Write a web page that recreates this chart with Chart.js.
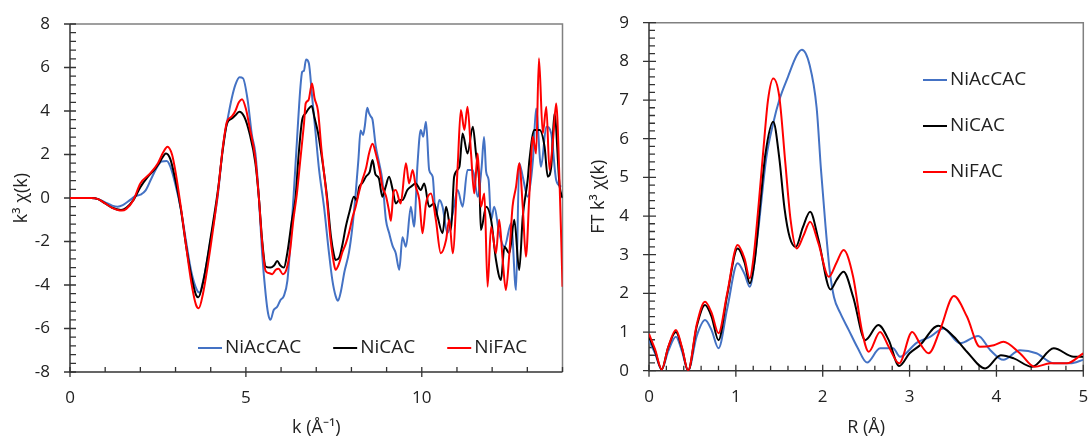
<!DOCTYPE html>
<html><head><meta charset="utf-8">
<script src="https://cdn.jsdelivr.net/npm/chart.js@4/dist/chart.umd.min.js"></script>
<style>
body{margin:0;background:#fff;width:1088px;height:439px;overflow:hidden;position:relative}
#w1{position:absolute;left:0;top:0;width:580px;height:439px}
#w2{position:absolute;left:575px;top:0;width:513px;height:439px}
</style></head><body>
<div id="w1"><canvas id="c1" width="580" height="439"></canvas></div>
<div id="w2"><canvas id="c2" width="513" height="439"></canvas></div>
<script>
// ---------- data ----------
const seriesNames = ['NiAcCAC', 'NiCAC', 'NiFAC'];

const kTicks = [0, 5, 10];
const chiTicks = [-8, -6, -4, -2, 0, 2, 4, 6, 8];
const rTicks = [0, 1, 2, 3, 4, 5];
const ftTicks = [0, 1, 2, 3, 4, 5, 6, 7, 8, 9];

// k-space: k (1/Å) and k^3 chi(k)
const kAcCAC = [0,0.6,0.8,1.0,1.2,1.35,1.5,1.7,1.85,2.0,2.15,2.3,2.45,2.6,2.75,2.85,3.0,3.15,3.3,3.45,3.6,3.68,3.8,4.0,4.2,4.35,4.5,4.6,4.7,4.82,4.92,5.05,5.17,5.27,5.37,5.46,5.56,5.63,5.7,5.79,5.89,5.98,6.08,6.18,6.27,6.36,6.45,6.55,6.6,6.65,6.71,6.79,6.88,6.98,7.08,7.22,7.36,7.46,7.55,7.62,7.7,7.8,7.93,8.03,8.12,8.2,8.26,8.33,8.38,8.45,8.5,8.55,8.6,8.69,8.79,8.88,8.98,9.07,9.17,9.26,9.36,9.45,9.55,9.69,9.78,9.88,9.97,10.04,10.12,10.21,10.31,10.4,10.5,10.59,10.73,10.88,11.02,11.16,11.3,11.45,11.59,11.7,11.77,11.83,11.9,11.97,12.06,12.2,12.35,12.54,12.68,12.77,12.87,13.01,13.16,13.25,13.39,13.54,13.68,13.82,13.96];
const chiAcCAC = [0,0,-0.05,-0.2,-0.35,-0.4,-0.33,-0.1,0.08,0.15,0.35,0.85,1.35,1.68,1.7,1.45,0.6,-0.5,-2.0,-3.4,-4.2,-4.35,-3.7,-1.9,0.1,2.4,3.8,4.6,5.2,5.55,5.5,4.5,2.9,2.05,0.0,-2.5,-4.4,-5.3,-5.6,-5.15,-5.0,-4.7,-4.5,-3.8,-2.0,0.2,2.6,5.1,5.8,5.85,6.37,6.2,4.7,3.0,1.3,-0.4,-2.5,-3.8,-4.5,-4.72,-4.3,-3.4,-2.5,-1.3,0.2,1.8,3.1,2.9,3.3,4.15,3.9,3.75,3.6,2.4,1.6,0.8,-1.0,-1.6,-2.2,-2.54,-3.3,-1.8,-2.24,-0.4,-1.32,1.6,3.13,2.82,3.51,1.29,0.98,-0.86,-0.09,-0.4,-1.62,-0.7,0.37,-0.4,1.29,1.29,0.06,1.4,2.8,1.2,0.83,-1.0,-0.4,-1.62,-2.24,-1.16,-4.23,1.6,0.98,0.06,1.75,4.12,1.44,3.28,2.97,0.83,0.52];

const kCAC = [0,0.6,0.8,1.0,1.2,1.45,1.6,1.8,2.0,2.2,2.4,2.55,2.73,2.85,3.0,3.15,3.3,3.45,3.58,3.65,3.78,4.0,4.2,4.35,4.46,4.6,4.7,4.81,4.95,5.1,5.27,5.37,5.46,5.56,5.7,5.8,5.89,5.98,6.08,6.18,6.31,6.41,6.5,6.6,6.7,6.78,6.87,6.95,7.05,7.17,7.31,7.42,7.5,7.55,7.65,7.75,7.84,7.95,8.07,8.15,8.22,8.31,8.42,8.52,8.6,8.68,8.78,8.88,8.97,9.07,9.17,9.26,9.36,9.45,9.59,9.69,9.83,9.97,10.07,10.21,10.35,10.45,10.59,10.69,10.83,10.92,11.07,11.16,11.3,11.45,11.54,11.64,11.68,11.83,11.97,12.11,12.25,12.35,12.49,12.63,12.77,12.87,13.01,13.06,13.2,13.35,13.49,13.58,13.68,13.77,13.92,14.0];
const chiCAC = [0,0,-0.05,-0.25,-0.45,-0.55,-0.45,-0.1,0.5,0.95,1.3,1.65,2.05,1.8,0.8,-0.5,-2.2,-3.6,-4.45,-4.56,-3.9,-1.8,0.3,2.3,3.4,3.65,3.8,3.97,3.75,3.0,1.6,0.0,-1.9,-3.15,-3.2,-3.1,-2.9,-3.1,-3.2,-2.5,-1.0,0.0,2.0,3.6,3.9,4.1,4.23,3.7,3.0,1.75,0.0,-1.8,-2.6,-2.85,-2.75,-2.1,-1.32,-0.6,0.06,-0.1,0.5,0.69,1.0,1.2,1.75,1.1,0.9,0.06,0.5,0.98,0.4,-0.25,-0.09,-0.09,0.37,0.52,0.67,0.37,0.67,-0.4,-0.25,-0.86,-1.62,-0.4,-1.47,0.98,1.44,2.97,2.05,3.28,2.05,0.52,-1.47,-0.4,-1.0,-2.85,-3.77,-2.24,-2.54,-1.0,-3.31,-0.86,0.83,1.75,3.13,3.13,2.36,0.98,1.44,3.89,0.52,0.0];

const kFAC = [0,0.6,0.8,1.0,1.2,1.47,1.6,1.8,2.0,2.28,2.5,2.65,2.77,2.9,3.0,3.15,3.3,3.45,3.58,3.66,3.78,4.0,4.2,4.35,4.46,4.6,4.7,4.8,4.89,5.0,5.1,5.27,5.37,5.46,5.56,5.65,5.75,5.85,5.93,6.05,6.15,6.25,6.35,6.45,6.55,6.65,6.7,6.78,6.88,6.95,7.05,7.15,7.3,7.4,7.5,7.55,7.65,7.74,7.84,7.93,8.03,8.12,8.22,8.31,8.42,8.5,8.6,8.7,8.8,8.88,8.98,9.07,9.12,9.2,9.26,9.4,9.55,9.64,9.74,9.83,9.93,10.02,10.12,10.26,10.4,10.54,10.69,10.78,10.88,11.02,11.11,11.21,11.3,11.4,11.49,11.59,11.68,11.78,11.87,11.97,12.11,12.2,12.3,12.39,12.49,12.58,12.68,12.77,12.87,12.96,13.06,13.16,13.25,13.33,13.44,13.54,13.63,13.73,13.82,13.92,13.97,14.0];
const chiFAC = [0,0,-0.05,-0.25,-0.45,-0.58,-0.5,-0.1,0.67,1.13,1.6,2.1,2.36,2.0,1.2,-0.4,-2.2,-3.9,-4.9,-5.07,-4.4,-2.2,0.2,2.4,3.5,3.75,4.0,4.4,4.54,4.1,3.3,1.8,0.0,-2.0,-3.35,-3.45,-3.5,-3.3,-3.25,-3.5,-3.3,-2.5,-1.0,0.2,1.8,3.4,4.35,4.5,5.27,4.6,4.0,2.2,0.0,-1.8,-3.0,-3.3,-3.0,-2.5,-2.1,-1.6,-0.9,-0.4,0.3,0.83,1.4,2.05,2.5,2.0,1.3,0.52,0.1,-0.6,-1.05,0.3,0.37,-0.25,1.6,0.67,1.29,0.52,-0.09,-1.62,-0.25,0.21,-1.0,-2.54,-1.93,-1.0,-2.54,1.44,4.05,3.13,4.2,2.05,0.21,2.05,-0.4,0.21,-4.08,-1.32,-2.54,-1.0,-2.85,-4.23,-2.54,-0.4,0.52,1.6,-0.4,-2.7,0.21,2.82,2.05,6.42,2.97,4.2,1.29,2.67,4.35,0.52,-2.24,-4.08];

// R-space: R (Å) and FT magnitude
const rAcCAC = [0,0.07,0.146,0.22,0.31,0.38,0.45,0.55,0.645,0.72,0.8,0.9,1.02,1.1,1.16,1.25,1.35,1.43,1.5,1.6,1.7,1.76,1.85,1.93,1.98,2.03,2.08,2.13,2.2,2.3,2.4,2.51,2.66,2.81,2.89,3.08,3.24,3.39,3.58,3.79,3.93,4.08,4.27,4.46,4.66,4.85,5.0];
const ftAcCAC = [0.79,0.45,0.03,0.5,0.88,0.5,0.0,0.9,1.31,1.05,0.58,1.6,2.78,2.5,2.17,3.5,5.5,6.4,7.0,7.6,8.15,8.3,7.9,6.8,5.2,3.8,2.6,1.9,1.5,1.05,0.6,0.21,0.58,0.58,0.36,0.72,0.88,1.09,0.71,0.9,0.53,0.28,0.53,0.45,0.19,0.19,0.28];

const rCAC = [0,0.07,0.146,0.22,0.31,0.38,0.45,0.55,0.645,0.72,0.8,0.9,1.02,1.1,1.16,1.22,1.28,1.34,1.43,1.5,1.56,1.62,1.69,1.77,1.855,1.95,2.09,2.16,2.24,2.35,2.49,2.64,2.76,2.88,3.0,3.12,3.33,3.51,3.66,3.87,4.05,4.2,4.41,4.66,4.89,5.0];
const ftCAC = [0.88,0.5,0.03,0.6,1.0,0.58,0.0,1.15,1.7,1.4,0.79,1.95,3.16,2.8,2.26,2.9,4.3,5.6,6.44,5.5,4.2,3.45,3.2,3.7,4.11,3.4,2.1,2.35,2.56,1.91,0.79,1.18,0.79,0.12,0.45,0.66,1.16,0.88,0.49,0.06,0.4,0.32,0.1,0.58,0.36,0.36];

const rFAC = [0,0.07,0.146,0.22,0.31,0.38,0.45,0.55,0.645,0.72,0.8,0.9,1.02,1.1,1.16,1.2,1.26,1.32,1.37,1.43,1.5,1.57,1.63,1.7,1.78,1.855,1.95,2.07,2.16,2.24,2.35,2.45,2.53,2.66,2.76,2.88,3.03,3.12,3.22,3.35,3.51,3.66,3.81,3.97,4.08,4.27,4.44,4.62,4.81,5.0];
const ftFAC = [0.95,0.55,0.03,0.6,1.05,0.6,0.0,1.2,1.78,1.5,0.97,2.0,3.25,2.9,2.39,2.86,4.24,5.8,7.0,7.56,7.09,5.36,3.9,3.16,3.5,3.85,3.3,2.43,2.8,3.12,2.43,1.05,0.49,1.0,0.62,0.19,1.0,0.7,0.45,1.05,1.93,1.4,0.62,0.66,0.75,0.45,0.1,0.19,0.19,0.45];

// ---------- styling ----------
const seriesColors = ['#4472C4', '#000000', '#FF0000'];
const drawOrder = [2, 1, 0];
const FONT = "'Open Sans', sans-serif";
const TEXT = '#222';
Chart.defaults.font.family = FONT;
Chart.defaults.color = TEXT;

const pts = (xs, ys) => xs.map((x, i) => ({x, y: ys[i]}));

const axisDeco = {
  id: 'axisDeco',
  beforeDatasetsDraw(chart, args, o) {
    const {ctx, chartArea: a, scales: {x, y}} = chart;
    ctx.save();
    ctx.strokeStyle = o.frameColor; ctx.lineWidth = o.frameWidth;
    ctx.beginPath(); ctx.moveTo(a.left, a.top); ctx.lineTo(a.right, a.top); ctx.lineTo(a.right, a.bottom); ctx.stroke();
    ctx.strokeStyle = o.axisColor; ctx.lineWidth = o.axisWidth;
    ctx.beginPath(); ctx.moveTo(a.left, a.top); ctx.lineTo(a.left, a.bottom); ctx.lineTo(a.right, a.bottom); ctx.stroke();
    ctx.lineWidth = o.tickWidth;
    ctx.beginPath();
    const majY = y.ticks.map(t => t.value);
    const ny = Math.round((y.max - y.min) / o.yMinor);
    for (let i = 0; i <= ny; i++) {
      const v = y.min + i * o.yMinor;
      const py = y.getPixelForValue(v);
      if (majY.some(m => Math.abs(m - v) < 1e-6)) { ctx.moveTo(a.left - o.yMajOut, py); ctx.lineTo(a.left + o.yMajIn, py); }
      else { ctx.moveTo(a.left, py); ctx.lineTo(a.left + o.yMinIn, py); }
    }
    const majX = x.ticks.map(t => t.value);
    const nx = Math.round((x.max - x.min) / o.xMinor);
    for (let i = 0; i <= nx; i++) {
      const v = x.min + i * o.xMinor;
      const px = x.getPixelForValue(v);
      if (majX.some(m => Math.abs(m - v) < 1e-6)) { ctx.moveTo(px, a.bottom + o.xMajOut); ctx.lineTo(px, a.bottom - o.xMajIn); }
      else { ctx.moveTo(px, a.bottom); ctx.lineTo(px, a.bottom - o.xMinIn); }
    }
    ctx.stroke();
    ctx.restore();
  }
};

const legendDeco = {
  id: 'legendDeco',
  afterDatasetsDraw(chart, args, o) {
    const ctx = chart.ctx;
    ctx.save();
    ctx.font = o.font; ctx.textBaseline = 'middle'; ctx.fillStyle = TEXT;
    let x = o.x, y = o.y;
    chart.data.datasets.forEach(ds => {
      ctx.strokeStyle = ds.borderColor; ctx.lineWidth = o.lineWidth;
      ctx.beginPath(); ctx.moveTo(x, y); ctx.lineTo(x + o.lineLen, y); ctx.stroke();
      ctx.fillText(ds.label, x + o.lineLen + o.textGap, y + o.textDy);
      if (o.dir === 'row') x += o.lineLen + o.textGap + ctx.measureText(ds.label).width + o.itemGap;
      else y += o.dy;
    });
    ctx.restore();
  }
};

function makeChart(id, cfg) {
  const datasets = cfg.series.map((s, i) => ({
    label: seriesNames[i],
    data: pts(s[0], s[1]),
    borderColor: seriesColors[i],
    backgroundColor: seriesColors[i],
    borderWidth: cfg.lineWidth,
    pointRadius: 0,
    fill: false,
    cubicInterpolationMode: 'monotone',
    order: drawOrder[i]
  }));
  return new Chart(document.getElementById(id), {
    type: 'line',
    data: {datasets},
    options: {
      responsive: false, animation: false, devicePixelRatio: 1,
      layout: {autoPadding: false, padding: cfg.padding},
      plugins: {legend: {display: false}, tooltip: {enabled: false},
        axisDeco: cfg.deco, legendDeco: cfg.legend},
      scales: {
        x: {
          type: 'linear', min: cfg.xMin, max: cfg.xMax,
          afterBuildTicks: s => { s.ticks = cfg.xTicks.map(v => ({value: v})); },
          afterFit: s => { s.height = cfg.xH; s.paddingLeft = 0; s.paddingRight = 0; },
          grid: {display: false, drawTicks: false}, border: {display: false},
          ticks: {font: {size: 17}, color: TEXT, padding: cfg.xTickPad, maxRotation: 0},
          title: {display: true, text: cfg.xTitle, font: {size: 18}, color: TEXT, padding: {top: 0, bottom: cfg.xTitlePad}}
        },
        y: {
          type: 'linear', min: cfg.yMin, max: cfg.yMax,
          afterBuildTicks: s => { s.ticks = cfg.yTicks.map(v => ({value: v})); },
          afterFit: s => { s.width = cfg.yW; s.paddingTop = 0; s.paddingBottom = 0; },
          grid: {display: false, drawTicks: false}, border: {display: false},
          ticks: {font: {size: 17}, color: TEXT, padding: 20},
          title: {display: true, text: cfg.yTitle, font: {size: 18}, color: TEXT, padding: {top: cfg.yTitlePad, bottom: 0}}
        }
      }
    },
    plugins: [axisDeco, legendDeco]
  });
}

makeChart('c1', {
  series: [[kAcCAC, chiAcCAC], [kCAC, chiCAC], [kFAC, chiFAC]],
  lineWidth: 2,
  padding: {left: 0, top: 24, right: 17.5, bottom: 0},
  xMin: 0, xMax: 14, yMin: -8, yMax: 8,
  xTicks: kTicks, yTicks: chiTicks,
  xH: 67, yW: 70, xTickPad: 16, xTitlePad: 0, yTitlePad: 11,
  xTitle: 'k (Å\u207B\u00B9)', yTitle: 'k\u00B3 \u03C7(k)',
  deco: {frameColor: '#808080', frameWidth: 1.5, axisColor: '#333', axisWidth: 1.5, tickWidth: 1.3,
    yMinor: 0.4, xMinor: 1, yMajOut: 6, yMajIn: 6, yMinIn: 6, xMajOut: 5, xMajIn: 5, xMinIn: 5},
  legend: {dir: 'row', x: 198, y: 348, lineLen: 24, textGap: 3, itemGap: 32, lineWidth: 2, font: "19px 'Open Sans', sans-serif", textDy: 0}
});

makeChart('c2', {
  series: [[rAcCAC, ftAcCAC], [rCAC, ftCAC], [rFAC, ftFAC]],
  lineWidth: 2,
  padding: {left: 0, top: 22.7, right: 4.7, bottom: 0},
  xMin: 0, xMax: 5, yMin: 0, yMax: 9,
  xTicks: rTicks, yTicks: ftTicks,
  xH: 68.3, yW: 74, xTickPad: 16, xTitlePad: 0, yTitlePad: 13,
  xTitle: 'R (Å)', yTitle: 'FT k\u00B3 \u03C7(k)',
  deco: {frameColor: '#808080', frameWidth: 1.5, axisColor: '#333', axisWidth: 1.5, tickWidth: 1.3,
    yMinor: 0.2, xMinor: 0.2, yMajOut: 6, yMajIn: 7, yMinIn: 6, xMajOut: 6, xMajIn: 6, xMinIn: 5},
  legend: {dir: 'col', x: 348, y: 80, dy: 46, lineLen: 24, textGap: 3, itemGap: 0, lineWidth: 2, font: "19px 'Open Sans', sans-serif", textDy: 0}
});
</script>
</body></html>
